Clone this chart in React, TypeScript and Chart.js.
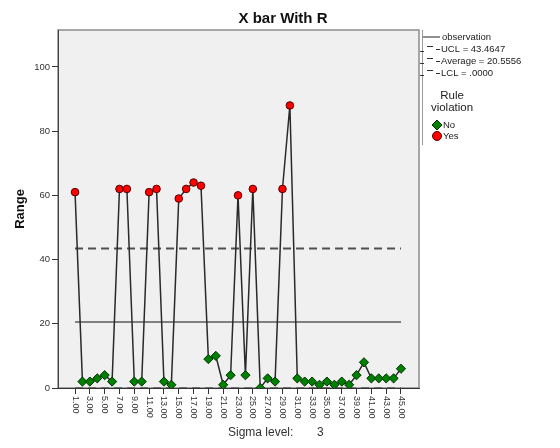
import React, { useEffect, useRef } from "react";
import { Chart, registerables } from "chart.js";

Chart.register(...registerables);

const sampleNumbers = [
  1, 2, 3, 4, 5, 6, 7, 8, 9, 10, 11, 12, 13, 14, 15, 16, 17, 18, 19, 20, 21, 22, 23,
  24, 25, 26, 27, 28, 29, 30, 31, 32, 33, 34, 35, 36, 37, 38, 39, 40, 41, 42, 43, 44, 45,
];
const rangeValues = [
  61, 2, 2, 3, 4, 2, 62, 62, 2, 2, 61, 62, 2, 1, 59, 62, 64, 63, 9, 10, 1, 4, 60,
  4, 62, 0, 3, 2, 62, 88, 3, 2, 2, 1, 2, 1, 2, 1, 4, 8, 3, 3, 3, 3, 6,
];
const xTickLabels = [
  "1.00", "3.00", "5.00", "7.00", "9.00", "11.00", "13.00", "15.00", "17.00", "19.00",
  "21.00", "23.00", "25.00", "27.00", "29.00", "31.00", "33.00", "35.00", "37.00",
  "39.00", "41.00", "43.00", "45.00",
];
const yTickValues = [0, 20, 40, 60, 80, 100];
const UCL = 43.4647;
const AVERAGE = 20.5556;
const LCL = 0;
const legendLabels = ["observation", "UCL = 43.4647", "Average = 20.5556", "LCL = .0000"];
const ruleLabels = ["No", "Yes"];
const sigmaLevel = "3";

const FONT = "'Liberation Sans', Arial, sans-serif";
const GREEN = "#008000";
const RED = "#ff0000";

const xTickValues = xTickLabels.map((l) => parseFloat(l));

function drawDiamond(ctx: CanvasRenderingContext2D, x: number, y: number, r: number) {
  ctx.beginPath();
  ctx.moveTo(x, y - r);
  ctx.lineTo(x + r, y);
  ctx.lineTo(x, y + r);
  ctx.lineTo(x - r, y);
  ctx.closePath();
  ctx.fillStyle = GREEN;
  ctx.fill();
  ctx.strokeStyle = "#003300";
  ctx.lineWidth = 1;
  ctx.stroke();
}

const decorPlugin = {
  id: "decor",
  beforeDraw(chart: any) {
    const { ctx, chartArea: a } = chart;
    ctx.save();
    ctx.fillStyle = "#ffffff";
    ctx.fillRect(0, 0, chart.width, chart.height);
    ctx.fillStyle = "#f0f0f0";
    ctx.fillRect(a.left, a.top, a.right - a.left, a.bottom - a.top);
    ctx.strokeStyle = "#8c8c8c";
    ctx.lineWidth = 1.5;
    ctx.strokeRect(a.left, a.top, a.right - a.left, a.bottom - a.top);
    ctx.restore();
  },
  afterDraw(chart: any) {
    const { ctx, chartArea: a } = chart;
    const xs = chart.scales.x;
    ctx.save();
    // x tick labels, rotated clockwise
    ctx.fillStyle = "#333";
    ctx.font = `9px ${FONT}`;
    ctx.textAlign = "left";
    ctx.textBaseline = "middle";
    xs.ticks.forEach((t: any, i: number) => {
      const px = xs.getPixelForValue(t.value);
      ctx.save();
      ctx.translate(px, a.bottom + 8);
      ctx.rotate(Math.PI / 2);
      ctx.fillText(xTickLabels[i], 0, 0);
      ctx.restore();
    });
    // title
    ctx.fillStyle = "#111";
    ctx.font = `bold 15px ${FONT}`;
    ctx.textAlign = "center";
    ctx.textBaseline = "middle";
    ctx.fillText("X bar With R", 283, 19);
    // y axis title
    ctx.save();
    ctx.translate(20, 209);
    ctx.rotate(-Math.PI / 2);
    ctx.font = `bold 13px ${FONT}`;
    ctx.fillText("Range", 0, 0);
    ctx.restore();
    // sigma level
    ctx.fillStyle = "#333";
    ctx.font = `12px ${FONT}`;
    ctx.textAlign = "left";
    ctx.fillText("Sigma level:", 228, 433);
    ctx.fillText(sigmaLevel, 317, 433);

    // legend
    const lx = a.right;
    ctx.strokeStyle = "#999";
    ctx.lineWidth = 1;
    ctx.beginPath();
    ctx.moveTo(lx + 3.5, 30);
    ctx.lineTo(lx + 3.5, 145);
    ctx.stroke();

    ctx.font = `9.5px ${FONT}`;
    ctx.fillStyle = "#222";
    ctx.textBaseline = "middle";
    const rows = [37, 49, 61, 73];
    // observation line
    ctx.strokeStyle = "#222";
    ctx.lineWidth = 1;
    ctx.beginPath();
    ctx.moveTo(lx + 4, rows[0]);
    ctx.lineTo(lx + 21, rows[0]);
    ctx.stroke();
    ctx.fillText(legendLabels[0], lx + 23, rows[0]);
    for (let i = 1; i < 4; i++) {
      const y = rows[i];
      ctx.strokeStyle = "#333";
      ctx.beginPath();
      ctx.moveTo(lx + 1, y + 2.5);
      ctx.lineTo(lx + 5, y + 2.5);
      ctx.moveTo(lx + 8, y - 2.5);
      ctx.lineTo(lx + 14, y - 2.5);
      ctx.moveTo(lx + 17, y + 0.5);
      ctx.lineTo(lx + 21, y + 0.5);
      ctx.stroke();
      ctx.fillText(legendLabels[i], lx + 22, y);
    }
    // rule violation
    ctx.font = `11.5px ${FONT}`;
    ctx.textAlign = "center";
    ctx.fillStyle = "#222";
    ctx.fillText("Rule", lx + 33, 96);
    ctx.fillText("violation", lx + 33, 108);
    drawDiamond(ctx, lx + 18, 125, 5);
    ctx.beginPath();
    ctx.arc(lx + 18, 136, 4.5, 0, Math.PI * 2);
    ctx.fillStyle = RED;
    ctx.fill();
    ctx.strokeStyle = "#550000";
    ctx.stroke();
    ctx.font = `9.5px ${FONT}`;
    ctx.textAlign = "left";
    ctx.fillStyle = "#222";
    ctx.fillText(ruleLabels[0], lx + 24, 125);
    ctx.fillText(ruleLabels[1], lx + 24, 136);
    ctx.restore();
  },
};

export default function App() {
  const canvasRef = useRef<HTMLCanvasElement | null>(null);

  useEffect(() => {
    const canvas = canvasRef.current;
    if (!canvas) return;
    const first = sampleNumbers[0];
    const last = sampleNumbers[sampleNumbers.length - 1];
    const points = sampleNumbers.map((s, i) => ({ x: s, y: rangeValues[i] }));
    const isViolation = rangeValues.map((v) => v > UCL || v < LCL);

    const chart = new Chart(canvas, {
      type: "line",
      data: {
        datasets: [
          {
            label: "observation",
            data: points,
            borderColor: "#2a2a2a",
            borderWidth: 1.5,
            pointStyle: isViolation.map((b) => (b ? "circle" : "rectRot")) as any,
            pointRadius: isViolation.map((b) => (b ? 3.8 : 4.6)),
            pointBackgroundColor: isViolation.map((b) => (b ? RED : GREEN)),
            pointBorderColor: isViolation.map((b) => (b ? "#550000" : "#003300")),
            pointBorderWidth: 1,
            order: 0,
          },
          {
            label: "UCL",
            data: [
              { x: first, y: UCL },
              { x: last, y: UCL },
            ],
            borderColor: "#505050",
            borderWidth: 2,
            borderDash: [8, 5],
            pointRadius: 0,
            order: 1,
          },
          {
            label: "Average",
            data: [
              { x: first, y: AVERAGE },
              { x: last, y: AVERAGE },
            ],
            borderColor: "#111",
            borderWidth: 1.2,
            pointRadius: 0,
            order: 1,
          },
          {
            label: "LCL",
            data: [
              { x: first, y: LCL },
              { x: last, y: LCL },
            ],
            borderColor: "#333",
            borderWidth: 1,
            borderDash: [8, 5],
            pointRadius: 0,
            order: 1,
          },
        ],
      },
      options: {
        responsive: false,
        animation: false,
        events: [],
        layout: { padding: { left: 0, top: 30, right: 141, bottom: 0 } },
        plugins: {
          legend: { display: false },
          tooltip: { enabled: false },
          title: { display: false },
        },
        scales: {
          x: {
            type: "linear",
            min: -1.3,
            max: 47.43,
            afterBuildTicks: (s: any) => {
              s.ticks = xTickValues.map((v) => ({ value: v }));
            },
            afterFit: (s: any) => {
              s.height = 60;
            },
            grid: {
              display: true,
              drawOnChartArea: false,
              drawTicks: true,
              tickLength: 6,
              color: "#333",
            },
            border: { display: true, color: "#333", width: 1 },
            ticks: { display: false },
          },
          y: {
            type: "linear",
            min: 0,
            max: 111.5,
            afterBuildTicks: (s: any) => {
              s.ticks = yTickValues.map((v) => ({ value: v }));
            },
            afterFit: (s: any) => {
              s.width = 58;
            },
            grid: {
              display: true,
              drawOnChartArea: false,
              drawTicks: true,
              tickLength: 6,
              color: "#333",
            },
            border: { display: true, color: "#444", width: 1 },
            ticks: {
              color: "#333",
              padding: 2,
              font: { family: FONT, size: 9.5 },
            },
          },
        },
      },
      plugins: [decorPlugin],
    });
    return () => chart.destroy();
  }, []);

  return (
    <div style={{ position: "fixed", left: 0, top: 0, width: 560, height: 448, background: "#fff" }}>
      <canvas ref={canvasRef} width={560} height={448} style={{ width: 560, height: 448 }} />
    </div>
  );
}
